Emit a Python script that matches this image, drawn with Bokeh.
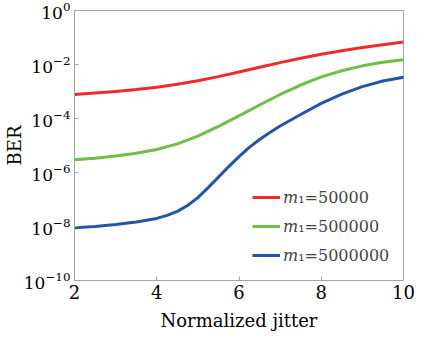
from bokeh.plotting import figure
from bokeh.models import FixedTicker, Legend, LegendItem, Range1d
from bokeh.embed import file_html
from bokeh.resources import INLINE

# Normalized jitter positions at which values were read
jitter = [2, 2.5, 3, 3.5, 4, 4.5, 5, 5.5, 6, 6.5, 7, 7.5, 8, 8.5, 9, 9.5, 10]
jitter_fine = [2, 2.5, 3, 3.5, 4, 4.25, 4.5, 4.75, 5, 5.25, 5.5, 5.75, 6, 6.25, 6.5, 6.75, 7, 7.5, 8, 8.5, 9, 9.5, 10]
# log10(BER)
log_ber_m50000 = [-3.11, -3.06, -3.00, -2.93, -2.84, -2.73, -2.60, -2.45, -2.28, -2.10, -1.93, -1.77, -1.62, -1.49, -1.37, -1.27, -1.17]
log_ber_m500000 = [-5.53, -5.47, -5.39, -5.29, -5.15, -4.94, -4.65, -4.29, -3.90, -3.50, -3.11, -2.76, -2.46, -2.23, -2.05, -1.92, -1.82]
log_ber_m5000000 = [-8.05, -8.00, -7.93, -7.83, -7.70, -7.59, -7.44, -7.22, -6.93, -6.56, -6.17, -5.78, -5.41,
                    -5.07, -4.78, -4.52, -4.28, -3.85, -3.44, -3.10, -2.82, -2.61, -2.47]
series_labels = ["𝑚₁=50000", "𝑚₁=500000", "𝑚₁=5000000"]
series_colors = ["#ee2a2a", "#6dbf45", "#2355a6"]
x_ticks = [2, 4, 6, 8, 10]
y_ticks = [1e-10, 1e-8, 1e-6, 1e-4, 1e-2, 1e0]

FONT = "DejaVu Serif"
GRAY = "#a8a4a4"

p = figure(frame_width=329, frame_height=270, output_backend="svg", toolbar_location=None,
           y_axis_type="log", x_range=Range1d(2, 10), y_range=Range1d(1e-10, 1e0),
           min_border_left=64, min_border_right=13, min_border_top=10, min_border_bottom=40)
p.background_fill_color = "white"
p.border_fill_color = "white"
p.outline_line_color = GRAY
p.outline_line_width = 1
p.xgrid.visible = False
p.ygrid.visible = False

items = []
for xs, logs, lab, col in zip([jitter, jitter, jitter_fine],
                              [log_ber_m50000, log_ber_m500000, log_ber_m5000000],
                              series_labels, series_colors):
    ys = [10 ** v for v in logs]
    r = p.line(xs, ys, line_color=col, line_width=3, line_join="round")
    items.append(LegendItem(label=lab, renderers=[r]))

for ax in (p.xaxis[0], p.yaxis[0]):
    ax.axis_line_color = GRAY
    ax.major_tick_line_color = GRAY
    ax.major_tick_in = 4
    ax.major_tick_out = 0
    ax.minor_tick_line_color = None
    ax.major_label_text_font = FONT
    ax.major_label_text_color = "black"
    ax.axis_label_text_font = FONT
    ax.axis_label_text_font_size = "18px"
    ax.axis_label_text_font_style = "normal"
    ax.axis_label_text_color = "black"

p.xaxis.major_label_text_font_size = "18px"
p.yaxis.major_label_text_font_size = "17px"
p.xaxis.ticker = FixedTicker(ticks=x_ticks)
p.yaxis.ticker = FixedTicker(ticks=y_ticks)
p.xaxis.axis_label = "Normalized jitter"
p.yaxis.axis_label = "BER"
p.xaxis.major_label_standoff = 4
p.yaxis.major_label_standoff = 4
p.xaxis.axis_label_standoff = 8
p.yaxis.axis_label_standoff = -4

legend = Legend(items=items, location=(178, 15), padding=0, margin=0, spacing=9,
                glyph_width=28, glyph_height=20, label_height=20, label_standoff=3,
                label_text_font=FONT, label_text_font_size="16px",
                border_line_alpha=0, background_fill_alpha=0)
p.add_layout(legend)

open("out.html", "w").write(file_html(p, INLINE))
